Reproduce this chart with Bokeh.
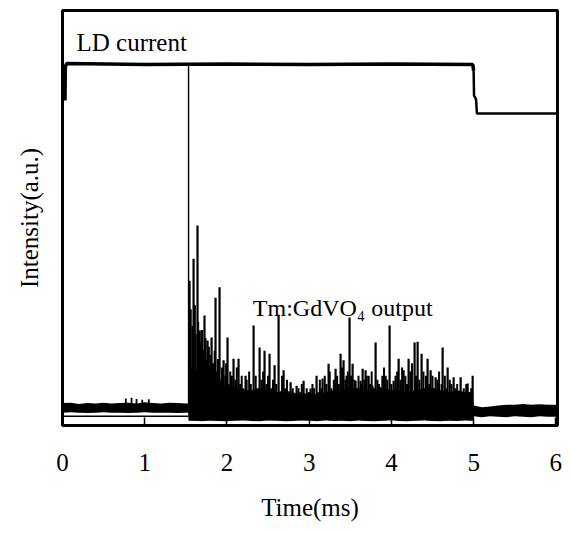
from bokeh.plotting import figure
from bokeh.models import Range1d, FixedTicker, Label
from bokeh.embed import file_html
from bokeh.resources import INLINE

# ---------------- data ----------------
tick_values = [0, 1, 2, 3, 4, 5, 6]
tick_labels = ["0", "1", "2", "3", "4", "5", "6"]

# LD current trace
t_ld = [0.03, 0.035, 0.05, 1.0, 2.0, 3.0, 4.0, 4.99, 5.0, 5.005, 5.02, 5.03, 5.04, 6.02]
v_ld = [78.3, 86.5, 87.2, 87.0, 87.1, 87.0, 87.1, 87.0, 85.5, 79.5, 79.0, 78.5, 75.2, 75.2]

# reference (zero) line of the scope below the output trace
t_ref = [0.0, 1.533]
v_ref = [2.2, 2.2]

# output noise envelope (dense part of the trace)
t_band = [0.0, 0.1, 0.2, 0.3, 0.4, 0.5, 0.6, 0.7, 0.8, 0.9, 1.0, 1.1, 1.2, 1.3, 1.4, 1.5,
          1.53, 1.54,
          1.6, 1.7, 1.8, 1.9, 2.0, 2.1, 2.2, 2.3, 2.4, 2.5, 2.6, 2.7, 2.8, 2.9, 3.0, 3.1, 3.2,
          3.3, 3.4, 3.5, 3.6, 3.7, 3.8, 3.9, 4.0, 4.1, 4.2, 4.3, 4.4, 4.5, 4.6, 4.7, 4.8, 4.9,
          4.99, 5.0,
          5.1, 5.2, 5.3, 5.4, 5.5, 5.6, 5.7, 5.8, 5.9, 6.02]
band_hi = [5.4, 5.5, 5.2, 5.4, 5.3, 5.5, 5.3, 5.4, 5.5, 5.3, 5.6, 5.4, 5.3, 5.5, 5.4, 5.3,
           5.3, 14.0,
           14.0, 12.0, 10.5, 10.0, 9.5, 9.0, 8.5, 8.5, 9.0, 8.5, 8.0, 8.5, 8.0, 7.5, 8.0, 7.5, 8.0,
           8.5, 8.5, 9.0, 9.0, 8.5, 8.5, 9.0, 8.5, 8.5, 8.0, 8.5, 9.0, 9.0, 8.5, 8.0, 8.5, 8.0,
           8.0, 4.8,
           4.4, 4.6, 4.8, 5.0, 5.0, 5.2, 5.0, 5.1, 5.0, 5.0]
band_lo = [3.1, 3.2, 3.1, 3.0, 3.1, 3.2, 3.1, 3.1, 3.0, 3.1, 3.2, 3.1, 3.1, 3.1, 3.0, 3.1,
           3.1, 1.2,
           1.2, 1.0, 1.3, 1.1, 1.0, 1.2, 1.4, 1.1, 1.0, 1.3, 1.2, 1.0, 1.1, 1.3, 1.2, 1.0, 1.4,
           1.1, 1.2, 1.0, 1.3, 1.1, 1.0, 1.2, 1.4, 1.1, 1.0, 1.2, 1.3, 1.1, 1.0, 1.2, 1.1, 1.3,
           1.2, 2.2,
           2.0, 2.2, 2.1, 2.0, 2.2, 2.1, 2.0, 2.2, 2.1, 2.1]

# first (relaxation) spike of the output
t_first = [1.533]
hi_first = [87.0]

# small bumps on the output before lasing
t_bump = [0.77, 0.84, 0.90, 0.97, 1.05]
hi_bump = [6.5, 6.7, 6.4, 6.2, 6.3]

# main output spikes
t_spk = [1.545, 1.594, 1.642, 1.667, 1.691, 1.727, 1.764, 1.813, 1.861, 1.910,
         1.959, 2.007, 2.080, 2.141, 2.226, 2.324, 2.397, 2.457, 2.518, 2.579,
         2.628, 2.689, 2.774, 2.847, 2.932, 3.017, 3.090, 3.163, 3.236, 3.321,
         3.382, 3.418, 3.455, 3.491, 3.528, 3.564, 3.625, 3.650, 3.686, 3.723,
         3.771, 3.808, 3.869, 3.929, 3.978, 4.027, 4.088, 4.148, 4.209, 4.282,
         4.319, 4.367, 4.440, 4.477, 4.538, 4.623, 4.684, 4.757, 4.842, 4.927,
         4.988]
hi_spk = [34.9, 40.2, 48.2, 22.9, 22.9, 26.5, 20.5, 21.2, 30.8, 33.3,
          15.7, 21.2, 16.1, 16.1, 12.0, 24.1, 18.8, 18.0, 17.3, 14.5,
          26.7, 13.3, 10.4, 9.6, 10.8, 8.9, 12.0, 11.3, 14.9, 13.7,
          17.3, 15.7, 12.0, 26.0, 14.9, 10.8, 10.8, 13.7, 13.3, 12.0,
          9.6, 20.0, 9.2, 12.0, 24.1, 10.8, 16.1, 13.3, 16.1, 20.0,
          20.2, 17.3, 16.1, 13.3, 11.6, 18.8, 14.0, 11.6, 11.6, 10.1,
          12.0]

# smaller spikes filling the noisy part of the output
t_fill = [1.56, 1.58, 1.61, 1.62, 1.65, 1.68, 1.70, 1.71, 1.74, 1.75,
          1.78, 1.79, 1.80, 1.83, 1.84, 1.85, 1.88, 1.89, 1.93, 1.94,
          1.98, 1.99, 2.02, 2.04, 2.05, 2.06, 2.10, 2.12, 2.16, 2.18,
          2.20, 2.24, 2.27, 2.29, 2.31, 2.35, 2.37, 2.42, 2.44, 2.48,
          2.50, 2.54, 2.56, 2.60, 2.65, 2.67, 2.71, 2.73, 2.76, 2.80,
          2.82, 2.87, 2.89, 2.91, 2.95, 2.97, 3.00, 3.04, 3.06, 3.11,
          3.13, 3.15, 3.19, 3.21, 3.25, 3.27, 3.30, 3.34, 3.36, 3.40,
          3.44, 3.47, 3.51, 3.55, 3.58, 3.60, 3.64, 3.67, 3.70, 3.74,
          3.76, 3.79, 3.83, 3.85, 3.89, 3.91, 3.95, 4.00, 4.05, 4.07,
          4.11, 4.13, 4.17, 4.19, 4.23, 4.25, 4.30, 4.34, 4.39, 4.42,
          4.46, 4.50, 4.52, 4.56, 4.58, 4.61, 4.65, 4.67, 4.71, 4.73,
          4.78, 4.80, 4.86, 4.88, 4.91, 4.95, 4.97]
hi_fill = [28, 24, 29, 22, 25, 20, 23, 18, 21, 16,
           19, 14, 17, 15, 12, 18, 13, 16, 11, 14,
           12, 15, 10, 13, 9, 12, 11, 14, 10, 12,
           9, 11, 13, 10, 8, 12, 9, 11, 13, 10,
           12, 9, 11, 10, 8, 12, 9, 11, 8, 9,
           7.5, 9, 8, 10, 7.5, 9, 8, 10, 9, 8,
           11, 9, 12, 10, 13, 9, 11, 12, 10, 14,
           11, 13, 12, 11, 9, 12, 10, 11, 12, 10,
           13, 9, 11, 10, 12, 14, 11, 10, 12, 13,
           11, 14, 12, 10, 13, 15, 12, 11, 13, 12,
           10, 12, 9, 11, 13, 10, 12, 9, 11, 10,
           9, 10, 8, 9, 10, 8, 9]

FONT = "Liberation Serif"

p = figure(width=563, height=525, output_backend="svg", toolbar_location=None,
           x_range=Range1d(0, 6.02), y_range=Range1d(0, 100),
           min_border_left=62, min_border_right=6, min_border_top=10, min_border_bottom=100)
p.outline_line_color = "black"
p.outline_line_width = 3
p.outline_line_alpha = 1.0
p.grid.visible = False
p.background_fill_color = "white"

# x axis
p.xaxis.ticker = FixedTicker(ticks=tick_values)
p.xaxis.major_label_overrides = {v: s for v, s in zip(tick_values, tick_labels)}
p.xaxis.minor_tick_line_color = None
p.xaxis.major_tick_in = 8
p.xaxis.major_tick_out = 0
p.xaxis.major_tick_line_width = 1.5
p.xaxis.major_tick_line_color = "black"
p.xaxis.axis_line_color = None
p.xaxis.major_label_standoff = 28
p.xaxis.major_label_text_font = FONT
p.xaxis.major_label_text_font_size = "25px"
p.xaxis.major_label_text_color = "black"
p.xaxis.axis_label = "Time(ms)"
p.xaxis.axis_label_text_font = FONT
p.xaxis.axis_label_text_font_size = "25px"
p.xaxis.axis_label_text_font_style = "normal"
p.xaxis.axis_label_text_color = "black"
p.xaxis.axis_label_standoff = 20

# y axis (no ticks)
p.yaxis.ticker = FixedTicker(ticks=[])
p.yaxis.minor_tick_line_color = None
p.yaxis.major_tick_line_color = None
p.yaxis.axis_line_color = None
p.yaxis.axis_label = "Intensity(a.u.)"
p.yaxis.axis_label_text_font = FONT
p.yaxis.axis_label_text_font_size = "25px"
p.yaxis.axis_label_text_font_style = "normal"
p.yaxis.axis_label_text_color = "black"
p.yaxis.axis_label_standoff = 20

# traces
p.varea(x=t_band, y1=band_lo, y2=band_hi, fill_color="black", fill_alpha=1.0)
p.segment(x0=t_fill, y0=1.2, x1=t_fill, y1=hi_fill, line_color="black", line_width=2.0)
p.segment(x0=t_spk, y0=1.2, x1=t_spk, y1=hi_spk, line_color="black", line_width=2.2)
p.segment(x0=t_bump, y0=4.5, x1=t_bump, y1=hi_bump, line_color="black", line_width=1.8)
p.segment(x0=t_first, y0=3.0, x1=t_first, y1=hi_first, line_color="black", line_width=1.4)
p.line(t_ref, v_ref, line_color="black", line_width=1.5)
p.line(t_ld[:9], v_ld[:9], line_color="black", line_width=3.5)
p.line(t_ld[8:], v_ld[8:], line_color="black", line_width=2.5)

# annotations
p.add_layout(Label(x=0.17, y=92.4, text="LD current", text_font=FONT,
                   text_font_size="25px", text_color="black", text_baseline="alphabetic"))
p.add_layout(Label(x=2.315, y=28.2, text="Tm:GdVO\u2084 output", text_font=FONT,
                   text_font_size="24px", text_color="black", text_baseline="alphabetic"))

open("out.html", "w").write(file_html(p, INLINE))
